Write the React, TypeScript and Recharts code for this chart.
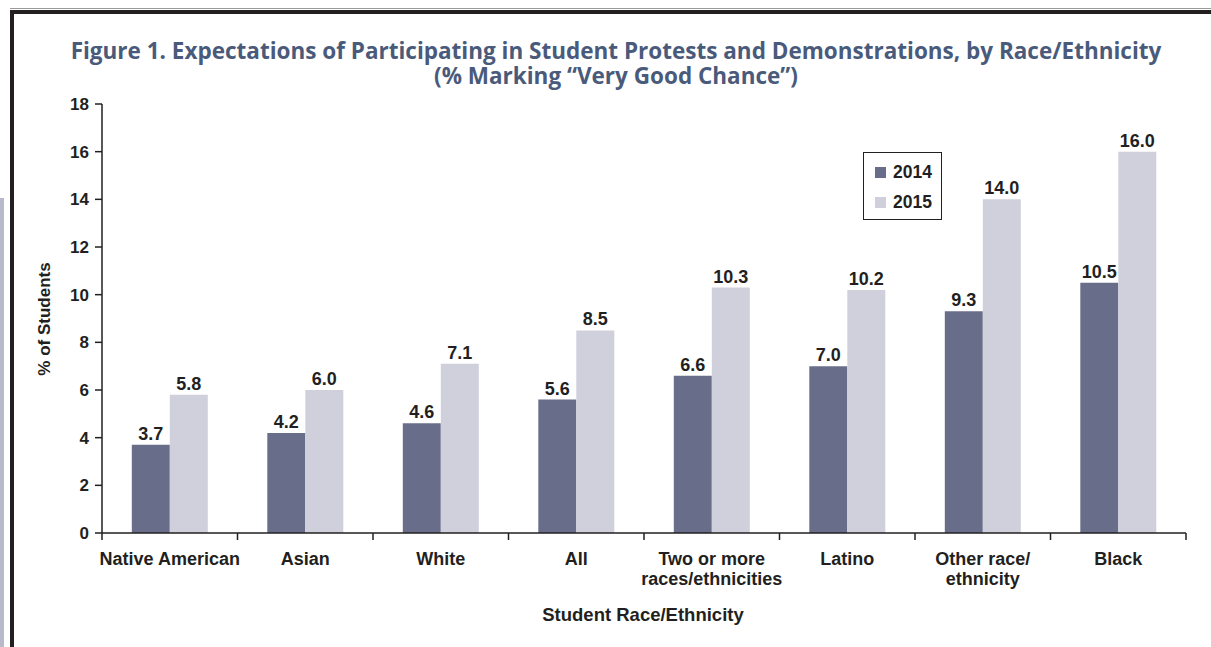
import { BarChart, Bar, XAxis, YAxis, LabelList } from "recharts";

const categories = [
  "Native American",
  "Asian",
  "White",
  "All",
  "Two or more\nraces/ethnicities",
  "Latino",
  "Other race/\nethnicity",
  "Black",
];
const values2014 = [3.7, 4.2, 4.6, 5.6, 6.6, 7.0, 9.3, 10.5];
const values2015 = [5.8, 6.0, 7.1, 8.5, 10.3, 10.2, 14.0, 16.0];
const yTicks = [0, 2, 4, 6, 8, 10, 12, 14, 16, 18];
const titleLines = [
  "Figure 1. Expectations of Participating in Student Protests and Demonstrations, by Race/Ethnicity",
  "(% Marking “Very Good Chance”)",
];

const data = categories.map((name, i) => ({
  name,
  y2014: values2014[i],
  y2015: values2015[i],
}));

const DARK = "#231f20";
const C2014 = "#686d8a";
const C2015 = "#d0d0dc";
const FONT = "'Liberation Sans', Arial, sans-serif";

// tick label plus a tick mark on the category boundary (left edge, and right edge for the last one)
function CategoryTick(props: any) {
  const { x, y, payload, index } = props;
  const half = payload.offset ?? 0;
  const lines = String(payload.value).split("\n");
  return (
    <g>
      <line x1={x - half} x2={x - half} y1={y} y2={y + 7} stroke={DARK} strokeWidth={1.5} />
      {index === categories.length - 1 && (
        <line x1={x + half} x2={x + half} y1={y} y2={y + 7} stroke={DARK} strokeWidth={1.5} />
      )}
      <text
        x={x}
        y={y + 32}
        textAnchor="middle"
        fill={DARK}
        fontFamily={FONT}
        fontWeight="bold"
        fontSize={18}
      >
        {lines.map((l, i) => (
          <tspan key={i} x={x} dy={i === 0 ? 0 : 20}>
            {l}
          </tspan>
        ))}
      </text>
    </g>
  );
}

const fmt = (v: any) => Number(v).toFixed(1);
const labelStyle = { fill: DARK, fontSize: 18, fontWeight: "bold", fontFamily: FONT };

export default function App() {
  return (
    <div
      style={{
        position: "absolute",
        left: 0,
        top: 0,
        width: 1211,
        height: 647,
        background: "#fff",
        overflow: "hidden",
        fontFamily: FONT,
      }}
    >
      {/* frame */}
      <div style={{ position: "absolute", left: 10, top: 8, right: 0, height: 1, background: "#999" }} />
      <div style={{ position: "absolute", left: 10, top: 10, right: 0, height: 4, background: DARK }} />
      <div style={{ position: "absolute", left: 10, top: 10, bottom: 0, width: 4, background: DARK }} />
      <div style={{ position: "absolute", left: 0, top: 198, bottom: 0, width: 4, background: "#b9b9cc" }} />

      <svg width={1211} height={100} style={{ position: "absolute", left: 0, top: 0 }}>
        <text
          x={616}
          textAnchor="middle"
          fill="#4a5a7b"
          fontFamily="'Open Sans', sans-serif"
          fontWeight={700}
          fontSize={22.5}
        >
          {titleLines.map((l, i) => (
            <tspan key={i} x={616} y={59 + i * 25}>
              {l}
            </tspan>
          ))}
        </text>
      </svg>

      <div style={{ position: "absolute", left: 0, top: 0 }}>
        <BarChart
          width={1211}
          height={647}
          data={data}
          margin={{ top: 104, right: 25, bottom: 54, left: 42 }}
          barCategoryGap="22%"
          barGap={0}
        >
          <XAxis
            dataKey="name"
            height={60}
            interval={0}
            tickSize={0}
            tickMargin={0}
            tickLine={false}
            axisLine={{ stroke: DARK, strokeWidth: 1.5 }}
            tick={<CategoryTick />}
          />
          <YAxis
            domain={[0, 18]}
            ticks={yTicks}
            width={60}
            tickSize={7}
            tickMargin={6}
            axisLine={{ stroke: DARK, strokeWidth: 1.5 }}
            tickLine={{ stroke: DARK, strokeWidth: 1.5 }}
            tick={{ fill: DARK, fontSize: 17, fontWeight: "bold", fontFamily: FONT }}
          />
          <Bar dataKey="y2014" fill={C2014} isAnimationActive={false}>
            <LabelList dataKey="y2014" position="top" offset={5} formatter={fmt} style={labelStyle} />
          </Bar>
          <Bar dataKey="y2015" fill={C2015} isAnimationActive={false}>
            <LabelList dataKey="y2015" position="top" offset={5} formatter={fmt} style={labelStyle} />
          </Bar>
        </BarChart>
      </div>

      {/* legend */}
      <div
        style={{
          position: "absolute",
          left: 863,
          top: 152,
          width: 79,
          height: 68,
          border: `1px solid ${DARK}`,
          boxSizing: "border-box",
          fontSize: 17.5,
          fontWeight: "bold",
          color: DARK,
        }}
      >
        {[
          { label: "2014", color: C2014, top: 10 },
          { label: "2015", color: C2015, top: 40 },
        ].map((it) => (
          <div key={it.label} style={{ position: "absolute", left: 11, top: it.top, display: "flex", alignItems: "center" }}>
            <span style={{ display: "inline-block", width: 11, height: 11, background: it.color, marginRight: 7 }} />
            <span style={{ lineHeight: "19px" }}>{it.label}</span>
          </div>
        ))}
      </div>

      <div
        style={{
          position: "absolute",
          left: 493,
          top: 604,
          width: 300,
          textAlign: "center",
          fontSize: 18.5,
          fontWeight: "bold",
          color: DARK,
        }}
      >
        Student Race/Ethnicity
      </div>
      <div
        style={{
          position: "absolute",
          left: 45 - 80,
          top: 319 - 10,
          width: 160,
          height: 20,
          lineHeight: "20px",
          textAlign: "center",
          transform: "rotate(-90deg)",
          fontSize: 17,
          fontWeight: "bold",
          color: DARK,
        }}
      >
        % of Students
      </div>
    </div>
  );
}
